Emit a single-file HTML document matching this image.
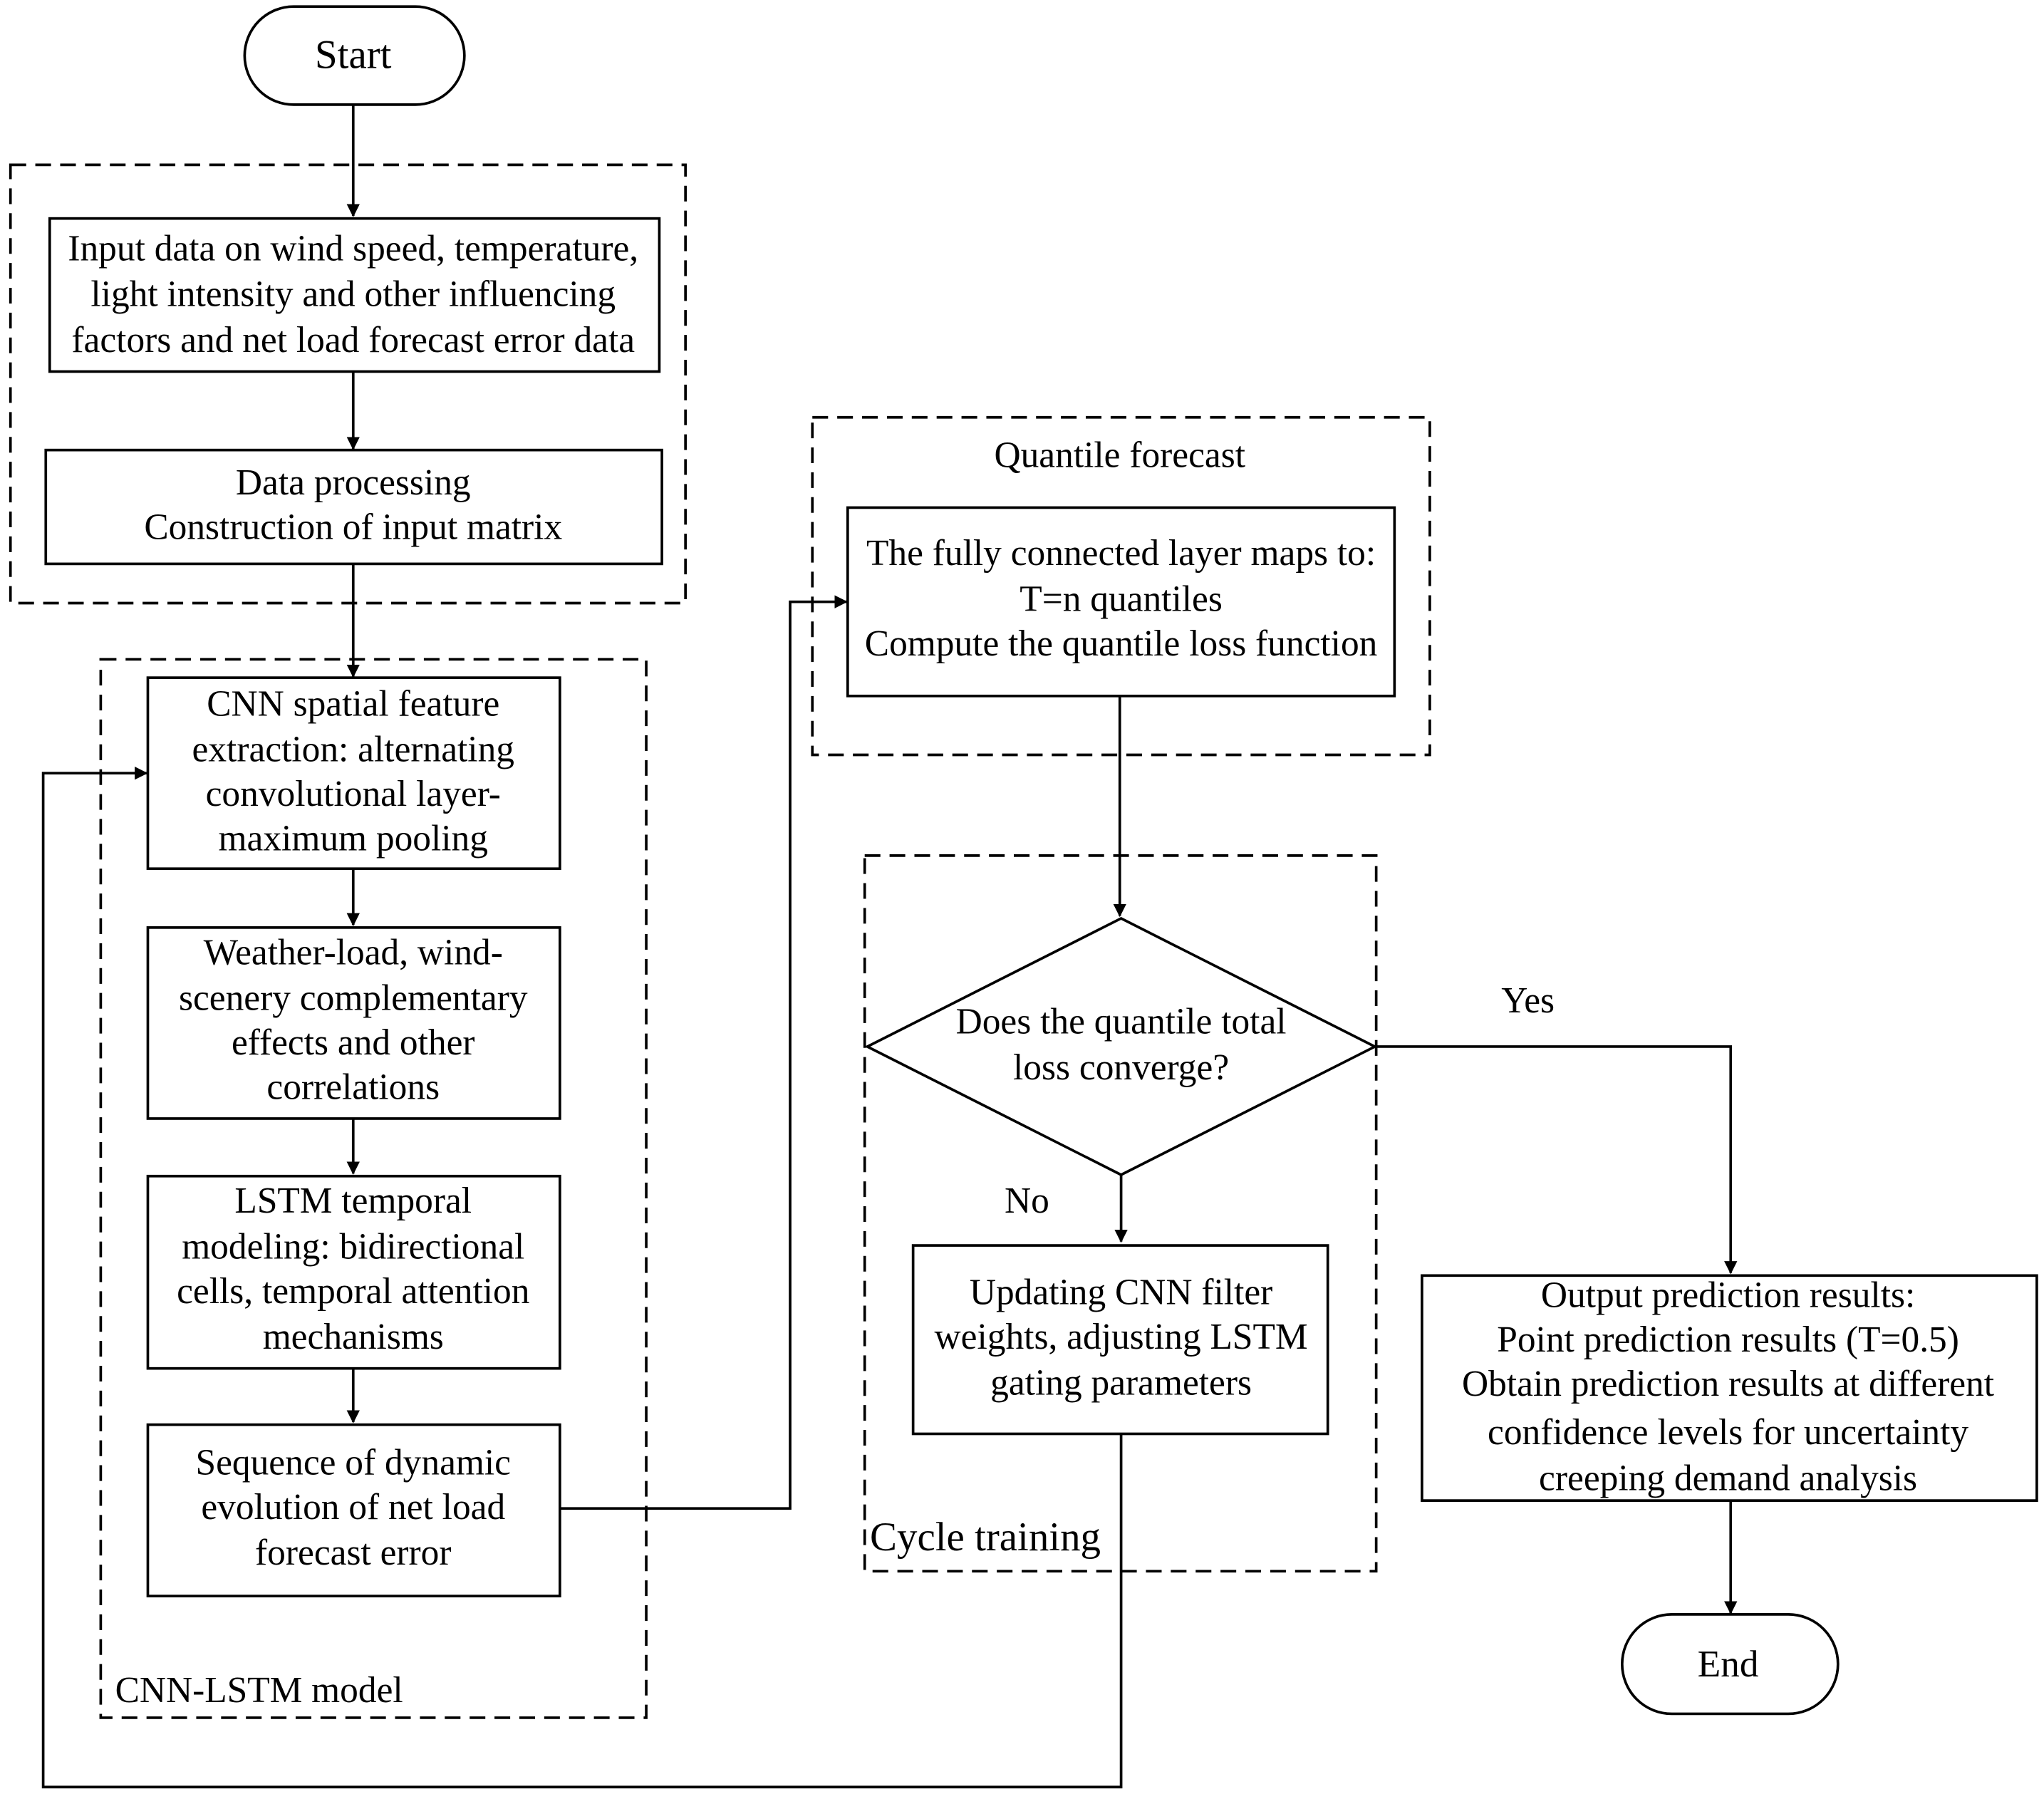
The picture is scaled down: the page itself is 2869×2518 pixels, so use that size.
<!DOCTYPE html>
<html><head><meta charset="utf-8"><style>
html,body{margin:0;padding:0;background:#fff;}
svg{display:block;}
text{font-family:"Liberation Serif",serif;font-size:28px;fill:#000;dominant-baseline:central;text-anchor:middle;}
</style></head><body>
<svg width="2869" height="2518" viewBox="0 0 1562.5 1371.3" preserveAspectRatio="none" xmlns="http://www.w3.org/2000/svg">
<defs><marker id="a" markerWidth="10" markerHeight="10" refX="9" refY="5" orient="auto" markerUnits="userSpaceOnUse"><path d="M0,0 L10,5 L0,10 z" fill="#000"/></marker></defs>
<g fill="none" stroke="#000" stroke-width="2">
<rect x="187" y="5" width="168" height="75" rx="37.5"/>
<rect x="1240" y="1234" width="165" height="76" rx="38"/>
<g stroke-dasharray="12,7">
<rect x="8" y="126" width="516" height="335"/>
<rect x="77" y="504" width="417" height="809"/>
<rect x="621" y="319" width="472" height="258"/>
<rect x="661" y="654" width="391" height="547"/>
</g>
<rect x="38" y="167" width="466" height="117"/>
<rect x="35" y="344" width="471" height="87"/>
<rect x="113" y="518" width="315" height="146"/>
<rect x="113" y="709" width="315" height="146"/>
<rect x="113" y="899" width="315" height="147"/>
<rect x="113" y="1089" width="315" height="131"/>
<rect x="648" y="388" width="418" height="144"/>
<rect x="698" y="952" width="317" height="144"/>
<rect x="1087" y="975" width="470" height="172"/>
<path d="M857,702 L1051,800 L857,898 L663,800 Z"/>
<g marker-end="url(#a)">
<path d="M270,80 V165"/>
<path d="M270,284 V343"/>
<path d="M270,431 V517"/>
<path d="M270,664 V707"/>
<path d="M270,855 V897"/>
<path d="M270,1046 V1087"/>
<path d="M428,1153 H604 V460 H647"/>
<path d="M856,532 V700"/>
<path d="M857,898 V949"/>
<path d="M857,1096 V1366 H33 V591 H112"/>
<path d="M1051,800 H1323 V973"/>
<path d="M1323,1147 V1233"/>
</g>
</g>
<text x="270" y="42" style="font-size:31px">Start</text>
<text x="1321" y="1272" style="font-size:29px">End</text>
<text x="270" y="190">Input data on wind speed, temperature,</text>
<text x="270" y="225">light intensity and other influencing</text>
<text x="270" y="260">factors and net load forecast error data</text>
<text x="270" y="369">Data processing</text>
<text x="270" y="403">Construction of input matrix</text>
<text x="270" y="538">CNN spatial feature</text>
<text x="270" y="573">extraction: alternating</text>
<text x="270" y="607">convolutional layer-</text>
<text x="270" y="641">maximum pooling</text>
<text x="270" y="728">Weather-load, wind-</text>
<text x="270" y="763">scenery complementary</text>
<text x="270" y="797">effects and other</text>
<text x="270" y="831">correlations</text>
<text x="270" y="918">LSTM temporal</text>
<text x="270" y="953">modeling: bidirectional</text>
<text x="270" y="987">cells, temporal attention</text>
<text x="270" y="1022">mechanisms</text>
<text x="270" y="1118">Sequence of dynamic</text>
<text x="270" y="1152">evolution of net load</text>
<text x="270" y="1187">forecast error</text>
<text x="88" y="1292" style="text-anchor:start">CNN-LSTM model</text>
<text x="856" y="348">Quantile forecast</text>
<text x="857" y="423">The fully connected layer maps to:</text>
<text x="857" y="458">T=n quantiles</text>
<text x="857" y="492">Compute the quantile loss function</text>
<text x="857" y="781">Does the quantile total</text>
<text x="857" y="816">loss converge?</text>
<text x="785" y="918">No</text>
<text x="1168" y="765">Yes</text>
<text x="857" y="988">Updating CNN filter</text>
<text x="857" y="1022">weights, adjusting LSTM</text>
<text x="857" y="1057">gating parameters</text>
<text x="665" y="1175" style="text-anchor:start;font-size:31px">Cycle training</text>
<text x="1321" y="990">Output prediction results:</text>
<text x="1321" y="1024">Point prediction results (T=0.5)</text>
<text x="1321" y="1058">Obtain prediction results at different</text>
<text x="1321" y="1095">confidence levels for uncertainty</text>
<text x="1321" y="1130">creeping demand analysis</text>
</svg>
</body></html>
